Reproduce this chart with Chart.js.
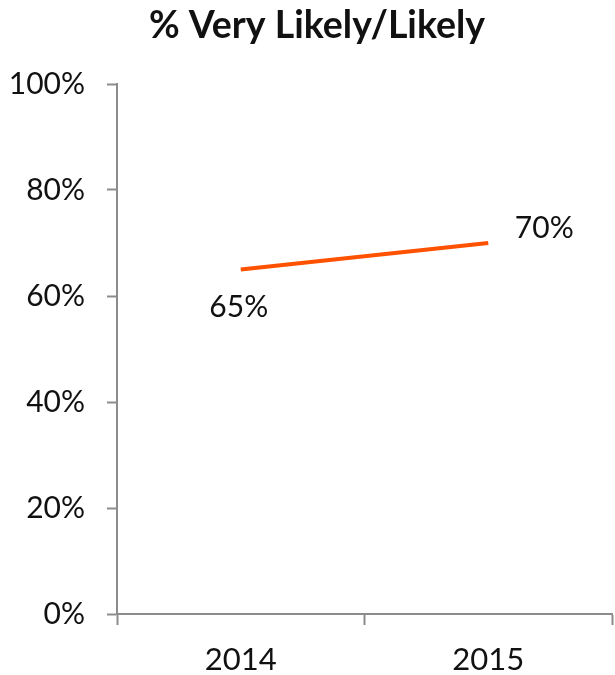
<!DOCTYPE html>
<html>
<head>
<meta charset="utf-8">
<script src="https://cdn.jsdelivr.net/npm/chart.js@4/dist/chart.umd.min.js"></script>
<style>
  html, body { margin: 0; padding: 0; background: #ffffff; }
  #wrap { width: 615px; height: 675px; }
</style>
</head>
<body>
<div id="wrap"><canvas id="chart" width="615" height="675"></canvas></div>
<script>
// Survey share answering "Very Likely" or "Likely", by year
const years = ['2014', '2015'];
const likelyShare = [65, 70];
const yTicks = [0, 20, 40, 60, 80, 100];
const chartTitle = '% Very Likely/Likely';

const axisGrey = '#8c8c8c';
const lineColor = '#ff5200';
const textColor = '#111111';
const fontFamily = 'Lato, "Open Sans", sans-serif';

// Heading drawn in the reserved top band
const heading = {
  id: 'heading',
  afterDraw(chart) {
    const { ctx } = chart;
    ctx.save();
    ctx.font = 'bold 37.5px ' + fontFamily;
    ctx.fillStyle = textColor;
    ctx.textAlign = 'center';
    ctx.textBaseline = 'alphabetic';
    ctx.fillText(chartTitle, 317, 38);
    ctx.restore();
  }
};

// Value labels placed beside each point (first one below, second one to the right)
const valueLabels = {
  id: 'valueLabels',
  afterDatasetsDraw(chart) {
    const { ctx } = chart;
    const meta = chart.getDatasetMeta(0);
    const offsets = [[-2, 38], [56, -15]];
    ctx.save();
    ctx.font = '30px ' + fontFamily;
    ctx.fillStyle = textColor;
    ctx.textAlign = 'center';
    ctx.textBaseline = 'middle';
    meta.data.forEach((pt, i) => {
      const [dx, dy] = offsets[i] || [0, -20];
      ctx.fillText(likelyShare[i] + '%', pt.x + dx, pt.y + dy);
    });
    ctx.restore();
  }
};

new Chart(document.getElementById('chart'), {
  type: 'line',
  data: {
    labels: years,
    datasets: [{
      data: likelyShare,
      borderColor: lineColor,
      borderWidth: 4,
      pointRadius: 0,
      pointHoverRadius: 0,
      tension: 0,
      fill: false
    }]
  },
  options: {
    responsive: false,
    animation: false,
    events: [],
    layout: { padding: { left: 0, right: 3, top: 84, bottom: 0 } },
    plugins: {
      legend: { display: false },
      tooltip: { enabled: false },
      title: { display: false }
    },
    scales: {
      x: {
        type: 'category',
        offset: true,
        grid: {
          offset: true,
          drawOnChartArea: false,
          drawTicks: true,
          tickLength: 11,
          tickColor: axisGrey,
          tickWidth: 2
        },
        border: { display: true, color: axisGrey, width: 2 },
        ticks: {
          color: textColor,
          font: { family: fontFamily, size: 31 },
          padding: 16,
          maxRotation: 0
        },
        afterFit(scale) { scale.height = 61; }
      },
      y: {
        min: 0,
        max: 100,
        afterBuildTicks(scale) { scale.ticks = yTicks.map(v => ({ value: v })); },
        grid: {
          drawOnChartArea: false,
          drawTicks: true,
          tickLength: 10,
          tickColor: axisGrey,
          tickWidth: 2
        },
        border: { display: true, color: axisGrey, width: 2 },
        ticks: {
          color: textColor,
          font: { family: fontFamily, size: 30 },
          padding: 22,
          callback: v => v + '%'
        },
        afterFit(scale) { scale.width = 117; }
      }
    }
  },
  plugins: [valueLabels, heading]
});
</script>
</body>
</html>
